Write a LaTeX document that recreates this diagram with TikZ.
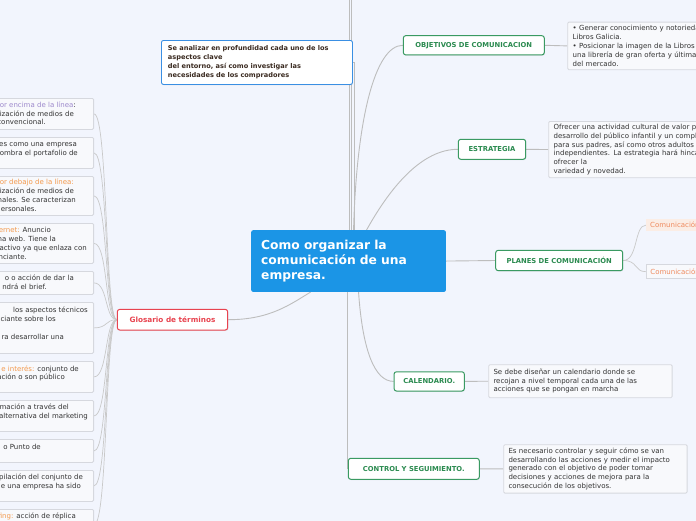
\documentclass[tikz,border=0pt]{standalone}
\usepackage{fontspec}
\setmainfont{DejaVu Sans}
\usetikzlibrary{shadows}
\pgfdeclarelayer{background}
\pgfsetlayers{background,main}
\definecolor{bgc}{HTML}{F2F5FD}
\definecolor{lineg}{HTML}{BDBDBD}
\definecolor{lineg2}{HTML}{C9C9C9}
\definecolor{notebd}{HTML}{D6D8DE}
\definecolor{notefill}{HTML}{F8F9FC}
\definecolor{txt}{HTML}{333333}
\definecolor{grn}{HTML}{2A8A4F}
\definecolor{grnbd}{HTML}{3A9A62}
\definecolor{gred}{HTML}{E8434F}
\definecolor{cblue}{HTML}{1B95E6}
\definecolor{bbd}{HTML}{3A8FE3}
\definecolor{orng}{HTML}{F3994C}
\definecolor{purp}{HTML}{9D89CC}
\definecolor{brwn}{HTML}{3A2A20}
\definecolor{peach}{HTML}{FBEDE5}
\definecolor{orng2}{HTML}{EF8A5E}
\tikzset{
  conn/.style={draw=lineg, line width=0.9pt},
  gconn/.style={draw=lineg2, line width=0.7pt},
  note/.style={draw=notebd, fill=notefill, line width=0.8pt, rounded corners=1.2pt,
    anchor=north west, align=left, text=txt, font=\fontsize{7}{8.8}\selectfont,
    inner xsep=4.8pt, inner ysep=0pt},
  gnode/.style={draw=grnbd, fill=white, line width=1pt, rounded corners=2.5pt,
    text=grn, font=\bfseries\fontsize{6.8}{8}\selectfont, inner sep=0pt,
    drop shadow={opacity=0.15, shadow xshift=0.6pt, shadow yshift=-0.8pt}},
  rnode/.style={draw=gred, fill=white, line width=1pt, rounded corners=2.5pt,
    text=gred, font=\bfseries\fontsize{7.3}{9}\selectfont, inner sep=0pt,
    drop shadow={opacity=0.15, shadow xshift=0.6pt, shadow yshift=-0.8pt}},
  central/.style={fill=cblue, rounded corners=2pt, text=white, align=left,
    font=\bfseries\fontsize{12.3}{14.8}\selectfont, inner xsep=10pt, inner ysep=0pt,
    anchor=north west},
  lbox/.style={draw=notebd, fill=notefill, line width=0.8pt, rounded corners=1.2pt,
    anchor=north east, minimum width=110pt, inner sep=0pt},
  ltxt/.style={anchor=base east, inner sep=0pt, text=txt, font=\fontsize{7}{8.8}\selectfont},
  child/.style={anchor=north west, inner xsep=4pt, inner ysep=0pt, text=orng2,
    font=\fontsize{7}{8.8}\selectfont, minimum width=80pt, text width=72pt, align=left}
}
\begin{document}
\begin{tikzpicture}[x=1pt,y=-1pt]
\useasboundingbox (0,0) rectangle (696,520);
\clip (0,0) rectangle (696,520);

% central
\node[central, minimum width=194.7pt, minimum height=61.7pt, text width=174.7pt] (c) at (251,230)
  {Como organizar la\\comunicación de una\\empresa.};

% top note
\node[draw=bbd, fill=white, line width=0.9pt, rounded corners=2pt, anchor=north west,
  minimum width=191pt, minimum height=44pt, text width=178pt, inner xsep=6.5pt, inner ysep=0pt,
  align=left, text=brwn, font=\bfseries\fontsize{6.6}{8.9}\selectfont,
  drop shadow={opacity=0.12, shadow xshift=0.5pt, shadow yshift=-0.8pt}] (sa) at (161,40)
  {Se analizar en profundidad cada uno de los\\aspectos clave\\del entorno, así como investigar las\\necesidades de los compradores};

% green nodes
\node[gnode, minimum width=141pt, minimum height=19.3pt] (o) at (473.8,45.3) {OBJETIVOS DE COMUNICACION};
\node[gnode, minimum width=67.4pt, minimum height=20pt] (es) at (492,149.3) {ESTRATEGIA};
\node[gnode, minimum width=127pt, minimum height=20.4pt] (pl) at (559.2,260.5) {PLANES DE COMUNICACIÓN};
\node[gnode, minimum width=70.3pt, minimum height=19.3pt] (ca) at (429.2,381.4) {CALENDARIO.};
\node[gnode, minimum width=131pt, minimum height=21pt] (ct) at (413.8,468.8) {CONTROL Y SEGUIMIENTO.};

% red node
\node[rnode, minimum width=110.4pt, minimum height=20.7pt] (g) at (172.5,319.7) {Glosario de términos};

% notes
\node[note, minimum width=240pt, minimum height=47.6pt, text width=230pt] (no) at (567.3,21.7)
  {• Generar conocimiento y notoriedad de\\Libros Galicia.\\• Posicionar la imagen de la Libros Galicia\\una librería de gran oferta y última novedad\\del mercado.};
\node[note, minimum width=240pt, minimum height=56.3pt, text width=230pt] (ne) at (548.3,121)
  {Ofrecer una actividad cultural de valor para el\\desarrollo del público infantil y un complemento\\para sus padres, así como otros adultos\\independientes. La estrategia hará hincapié en\\ofrecer la\\variedad y novedad.};
\node[note, minimum width=183.4pt, minimum height=33pt, text width=173.8pt] (nc) at (488.3,364.3)
  {Se debe diseñar un calendario donde se\\recojan a nivel temporal cada una de las\\acciones que se pongan en marcha};
\node[note, minimum width=183.4pt, minimum height=48.4pt, text width=173.8pt] (nt) at (503.3,444.3)
  {Es necesario controlar y seguir cómo se van\\desarrollando las acciones y medir el impacto\\generado con el objetivo de poder tomar\\decisiones y acciones de mejora para la\\consecución de los objetivos.};

% planes children
\node[child, fill=peach, minimum height=12.5pt] (p1) at (646,218.7) {Comunicación};
\node[child, fill=notefill, draw=notebd, line width=0.8pt, minimum height=14pt] (p2) at (646,264.3) {Comunicación};

% left boxes
\node[lbox, minimum height=31pt] (b1) at (94,98) {};
\node[lbox, minimum height=31pt] (b2) at (94,137) {};
\node[lbox, minimum height=39pt] (b3) at (94,176) {};
\node[lbox, minimum height=40pt] (b4) at (94,223) {};
\node[lbox, minimum height=23pt] (b5) at (94,271) {};
\node[lbox, minimum height=51pt] (b6) at (94,302) {};
\node[lbox, minimum height=31pt] (b7) at (94,361) {};
\node[lbox, minimum height=31pt] (b8) at (94,400) {};
\node[lbox, minimum height=23pt] (b9) at (94,439) {};
\node[lbox, minimum height=31pt] (b10) at (94,470) {};
\node[lbox, minimum height=31pt] (b11) at (94,509) {};

% left texts
\node[ltxt] (t1a) at (76,107.3) {\textcolor{purp}{or encima de la línea}:};
\node[ltxt] (t1b) at (74,116.1) {ización de medios de};
\node[ltxt] (t1c) at (46,124.9) {convencional.};
\node[ltxt] (t2a) at (77,146.3) {es como una empresa};
\node[ltxt] (t2b) at (78,155.1) {ombra el portafolio de};
\node[ltxt] (t3a) at (74,184.9) {\textcolor{orng}{or debajo de la línea:}};
\node[ltxt] (t3b) at (74,193.7) {ización de medios de};
\node[ltxt] (t3c) at (76,202.5) {nales. Se caracterizan};
\node[ltxt] (t3d) at (37,211.3) {ersonales.};
\node[ltxt] (t4a) at (51,232.6) {\textcolor{orng}{ernet:} Anuncio};
\node[ltxt] (t4b) at (56,241.4) {na web. Tiene la};
\node[ltxt] (t4c) at (87,250.2) {ractivo ya que enlaza con};
\node[ltxt] (t4d) at (27,259) {nciante.};
\node[ltxt] (t5a) at (74,280.9) {o o acción de dar la};
\node[ltxt] (t5b) at (47,289.7) {ndrá el brief.};
\node[ltxt] (t6a) at (88,312.9) {los aspectos técnicos};
\node[ltxt] (t6b) at (56,321.7) {ciante sobre los};
\node[ltxt] (t6c) at (64,339.3) {ra desarrollar una};
\node[ltxt] (t7a) at (79,371) {\textcolor{orng}{e interés:} conjunto de};
\node[ltxt] (t7b) at (65,379.8) {ación o son público};
\node[ltxt] (t8a) at (69,409.9) {mación a través del};
\node[ltxt] (t8b) at (88,418.7) {alternativa del marketing};
\node[ltxt] (t9a) at (41,449) {o Punto de};
\node[ltxt] (t10a) at (83,479.7) {pilación del conjunto de};
\node[ltxt] (t10b) at (81,488.5) {e una empresa ha sido};
\node[ltxt] (t11a) at (76,518.7) {\textcolor{orng}{fing:} acción de réplica};

\begin{pgfonlayer}{background}
\fill[bgc] (-5,-5) rectangle (701,525);
% top lines to off-picture nodes
\draw[conn] ([xshift=1pt]c.north) -- ++(0,-240);
\draw[conn] ([xshift=3pt]c.north) -- ++(0,-240);
\draw[conn] (sa.east) -| ([xshift=5.5pt]c.north);
% central to children
\draw[conn] ([xshift=5pt]c.north) .. controls +(3,-110) and +(-28,0) .. (o.west);
\draw[conn] ([xshift=18pt]c.north) .. controls +(25,-45) and +(-35,0) .. (es.west);
\draw[conn] (c.east) -- (pl.west);
\draw[conn] ([xshift=10pt]c.south) .. controls +(4,58) and +(-19,0) .. (ca.west);
\draw[conn] (c.south -| ct.west) -- (ct.west);
\draw[conn] (g.east) .. controls +(42,0) and +(-20,12) .. ([xshift=-38pt]c.south);
% children to notes
\draw[conn] (o.east) -- (no.west);
\draw[conn] (es.east) -- (ne.west);
\draw[conn] (ca.east) -- (nc.west);
\draw[conn] (ct.east) -- (nt.west);
\draw[gconn] (pl.east) .. controls +(15,0) and +(-12,0) .. (p1.west);
\draw[gconn] (pl.east) .. controls +(15,0) and +(-12,0) .. (p2.west);
% glossary
\foreach \b in {b1,b2,b3,b4,b5,b6,b7,b8,b9,b10,b11}
  \draw[gconn] (\b.east) .. controls +(14,0) and +(-12,0) .. (g.west);
\end{pgfonlayer}
\end{tikzpicture}
\end{document}
